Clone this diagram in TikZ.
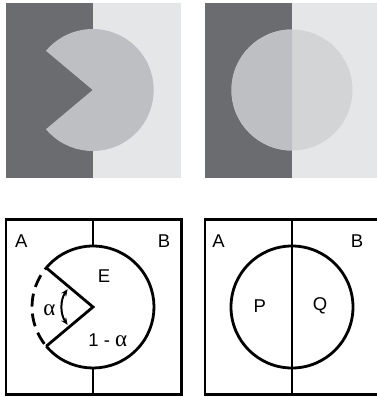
\documentclass[tikz,border=0pt]{standalone}
\usepackage{fontspec}
\setmainfont{Liberation Sans}
\newfontfamily\greekf{Liberation Serif}
\usetikzlibrary{arrows.meta}
\begin{document}
\begin{tikzpicture}[x=1pt,y=-1pt,
  lbl/.style={font=\fontsize{18.5}{20}\selectfont, inner sep=0pt},
  thick line/.style={line width=2.8pt},
]
\definecolor{darkg}{HTML}{6B6C70}
\definecolor{lightg}{HTML}{E5E6E8}
\definecolor{midg}{HTML}{BEBFC2}
\definecolor{pale}{HTML}{D3D4D6}
\useasboundingbox (0,0) rectangle (377,397);
% top left
\fill[darkg] (6,3) rectangle (92.7,177.7);
\fill[lightg] (92.7,3) rectangle (181,177.7);
\coordinate (c1) at (92.7,90);
\fill[midg] (c1) -- ++(140:61) arc[start angle=140, end angle=-140, radius=61] -- cycle;
% top right
\fill[darkg] (205,3) rectangle (292,177.7);
\fill[lightg] (292,3) rectangle (377,177.7);
\coordinate (c2) at (292,90);
\fill[pale] (c2) circle[radius=60.5];
\begin{scope}
\clip (200,0) rectangle (292,180);
\fill[midg] (c2) circle[radius=60.5];
\end{scope}
% bottom left
\coordinate (c3) at (93,307);
\coordinate (t3) at (93,219.3);
\coordinate (b3) at (93,394.3);
\draw[thick line] (6,219.3) rectangle (181.7,394.3);
\draw[thick line] (t3) -- (93,246);
\draw[thick line] (93,368) -- (b3);
\draw[thick line, line join=miter] (c3) ++(140:61) coordinate (m1) -- (c3) -- ++(220:61) coordinate (m2);
\draw[thick line] (m1) arc[start angle=140, end angle=-140, radius=61];
\draw[thick line, dash pattern=on 13pt off 7pt, dash phase=-3pt] (m1) arc[start angle=140, end angle=220, radius=61];
\draw[line width=2pt, {Stealth[length=7pt,width=6pt]}-{Stealth[length=7pt,width=6pt]}] (c3) ++(145:31) arc[start angle=145, end angle=215, radius=31];
\node[lbl] (A1) at (21.3,241.5) {A};
\node[lbl] (B1) at (164,241.5) {B};
\node[lbl] (E1) at (104,276) {E};
\node[lbl] (al) at (49.5,310.5) {\greekf\fontsize{23}{24}\selectfont α};
\node[lbl] (oma) at (107.8,340.5) {1 - {\greekf\fontsize{23}{24}\selectfont α}};
% bottom right
\coordinate (c4) at (292,307);
\draw[thick line] (377,219.3) -- (205,219.3) -- (205,394.3) -- (377,394.3);
\draw[thick line] (292,219.3) -- (292,394.3);
\draw[thick line] (c4) circle[radius=61];
\node[lbl] (A2) at (218.5,241.5) {A};
\node[lbl] (B2) at (357,241.5) {B};
\node[lbl] (P) at (259.7,306) {P};
\node[lbl] (Q) at (320,306) {Q};
\end{tikzpicture}
\end{document}
